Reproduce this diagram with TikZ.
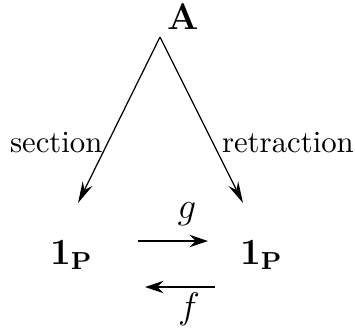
\documentclass[tikz,border=0pt]{standalone}
\usetikzlibrary{arrows.meta}
\begin{document}
\begin{tikzpicture}[x=0.325pt,y=-0.325pt,
  lbl/.style={inner sep=0pt,outer sep=0pt},
  thin arrow/.style={line width=0.4pt,-{Stealth[length=7pt,width=3.5pt]}},
  thick arrow/.style={line width=0.8pt,-{Stealth[length=6pt,width=4pt]}}]
\useasboundingbox (0,0) rectangle (355,327);
\node[lbl,anchor=base] (A) at (183,29) {\large\textbf{A}};
\node[lbl,anchor=base west] (L) at (50,264) {\large$\mathbf{1_P}$};
\node[lbl,anchor=base west] (R) at (240,264) {\large$\mathbf{1_P}$};
\node[lbl,anchor=base west] (sec) at (10,152) {section};
\node[lbl,anchor=base west] (ret) at (222,152) {retraction};
\node[lbl] (g) at (187,214) {\large$g$};
\node[lbl,anchor=base] (f) at (189,318) {\large$f$};
\coordinate (apex) at (160,37);
\coordinate (le) at (78,203);
\coordinate (re) at (243,203);
\coordinate (g1) at (138,241);
\coordinate (g2) at (208,241);
\coordinate (f1) at (215,287);
\coordinate (f2) at (145,287);
\draw[thin arrow] (apex) -- (le);
\draw[thin arrow] (apex) -- (re);
\draw[thick arrow] (g1) -- (g2);
\draw[thick arrow] (f1) -- (f2);
\end{tikzpicture}
\end{document}
